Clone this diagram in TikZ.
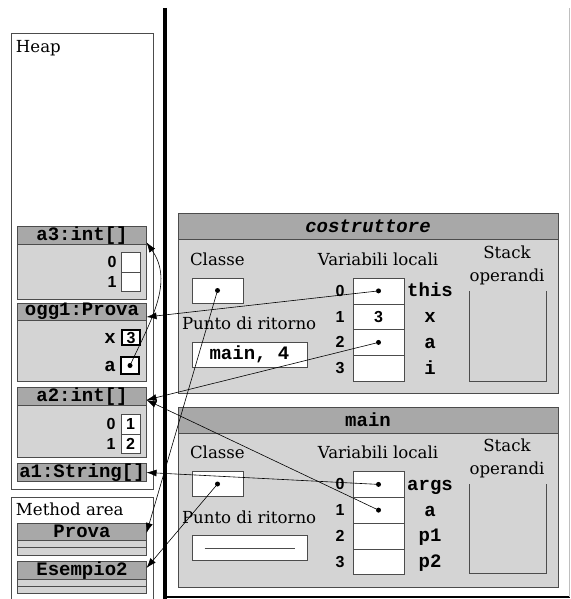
\documentclass[tikz,border=0pt]{standalone}
\usepackage{fontspec}
\setmainfont{DejaVu Serif}
\setmonofont{Liberation Mono}
\newfontfamily\numfont{Liberation Sans}
\usetikzlibrary{arrows.meta}
\newcommand{\txt}{\fontsize{16.6}{19}\selectfont}
\newcommand{\cod}{\fontsize{19}{21}\selectfont\ttfamily\bfseries}
\newcommand{\dig}{\fontsize{16}{18}\selectfont\numfont\bfseries}
\definecolor{hdrgray}{gray}{0.66}
\definecolor{bodygray}{gray}{0.83}
\definecolor{linegray}{gray}{0.3}

\begin{document}
\begin{tikzpicture}[x=1pt,y=-1pt,every node/.style={inner sep=0pt, outer sep=0pt},
  hdr/.style={draw=linegray, fill=hdrgray, minimum width=129pt, minimum height=17pt, font=\cod},
  body/.style={draw=linegray, fill=bodygray, minimum width=129pt},
  cell/.style={draw=linegray, fill=white, minimum width=19pt, minimum height=19.5pt, font=\dig, text height=11pt, text depth=0pt},
  var/.style={draw=linegray, fill=white, minimum width=51pt, minimum height=25.75pt},
  idx/.style={font=\dig, text height=11pt, text depth=0pt},
  vname/.style={font=\cod, text height=12pt, text depth=0pt},
  dot/.style={circle, fill=black, minimum size=5pt},
  ptr/.style={-{Latex[length=10pt,width=7pt]}, line width=0.6pt}]
\useasboundingbox (0,0) rectangle (570,599);

% separators
\draw[line width=3.3pt] (165,8) -- (165,599);
\draw[line width=1.2pt] (165,597) -- (570,597);
\draw[black!25] (569,8) -- (569,597);

% heap
\node[draw=linegray, minimum width=142pt, minimum height=456pt] (heap) at (82,261) {};
\node[anchor=base west, font=\txt] (heaplbl) at (16,53) {Heap};

\node[body, minimum height=55pt] (a3b) at (82,271.5) {};
\node[hdr] (a3h) at (82,235.5) {a3:int[]};
\node[cell] (a3c0) at (130.5,262) {};
\node[cell] (a3c1) at (130.5,281.5) {};
\node[idx] (a3i0) at (112,262) {0};
\node[idx] (a3i1) at (112,281.5) {1};

\node[body, minimum height=61pt] (ogg1b) at (82,350.5) {};
\node[hdr] (ogg1h) at (82,311.5) {ogg1:Prova};
\node[cell, line width=1.8pt, draw=black, minimum width=18pt, minimum height=15pt] (ogg1x) at (131,337.5) {3};
\node[cell, line width=1.8pt, draw=black, minimum width=18pt, minimum height=17pt] (ogg1a) at (130,365.5) {};
\node[dot] (ogg1ad) at (ogg1a) {};
\node[vname] (ogg1xl) at (110,337.5) {x};
\node[vname] (ogg1al) at (110,365.5) {a};

\node[body, minimum height=52pt] (a2b) at (82,431) {};
\node[hdr] (a2h) at (82,396.5) {a2:int[]};
\node[cell] (a2c0) at (130.5,424) {1};
\node[cell] (a2c1) at (130.5,443.5) {2};
\node[idx] (a2i0) at (111,424) {0};
\node[idx] (a2i1) at (111,443.5) {1};

\node[hdr] (a1h) at (82,472.5) {a1:String[]};

% method area
\draw[linegray] (11,600) |- (153,497) -- (153,600);
\node[anchor=base west, font=\txt] (marealbl) at (16,515) {Method area};
\node[hdr] (provah) at (82,531.5) {Prova};
\node[body, minimum height=7.5pt] (provas1) at (82,543.75) {};
\node[body, minimum height=7.5pt] (provas2) at (82,551.25) {};
\node[hdr] (esh) at (82,570.5) {Esempio2};
\node[body, minimum height=7pt] (ess1) at (82,582.5) {};
\node[body, minimum height=7pt] (ess2) at (82,589.5) {};

% frame costruttore
\node[draw=linegray, fill=bodygray, minimum width=380pt, minimum height=180pt] (cf) at (368,303) {};
\node[draw=linegray, fill=hdrgray, minimum width=380pt, minimum height=26pt, font=\cod\itshape] (ch) at (368,226) {costruttore};
\node[anchor=base west, font=\txt] (ccls) at (190,265) {Classe};
\node[draw=linegray, fill=white, minimum width=51pt, minimum height=25pt] (cclsb) at (217.5,290.5) {};
\node[dot] (cclsd) at (cclsb) {};
\node[anchor=base west, font=\txt] (cret) at (182,329) {Punto di ritorno};
\node[draw=linegray, fill=white, minimum width=115pt, minimum height=25pt, font=\cod] (cretb) at (249.5,354.5) {main, 4};
\node[anchor=base, font=\txt] (cvar) at (378,265) {Variabili locali};
\node[var] (c0) at (378.5,290.9) {};
\node[var] (c1) at (378.5,316.6) {};
\node[var] (c2) at (378.5,342.4) {};
\node[var] (c3) at (378.5,368.1) {};
\node[idx] (ci0) at (340,290.9) {0};
\node[idx] (ci1) at (340,316.6) {1};
\node[idx] (ci2) at (340,342.4) {2};
\node[idx] (ci3) at (340,368.1) {3};
\node[vname] (cn0) at (430,290.9) {this};
\node[vname] (cn1) at (430,316.6) {x};
\node[vname] (cn2) at (430,342.4) {a};
\node[vname] (cn3) at (430,368.1) {i};
\node[dot] (c0d) at (c0) {};
\node[idx] (c1v) at (c1) {3};
\node[dot] (c2d) at (c2) {};
\node[anchor=base, font=\txt] (cstk1) at (507,258) {Stack};
\node[anchor=base, font=\txt] (cstk2) at (507,281) {operandi};
\draw[linegray, line width=0.8pt] (469,291) -- (469,381) -- (546,381) -- (546,291);

% frame main
\node[draw=linegray, fill=bodygray, minimum width=380pt, minimum height=180pt] (mf) at (368,497) {};
\node[draw=linegray, fill=hdrgray, minimum width=380pt, minimum height=26pt, font=\cod] (mh) at (368,420) {main};
\node[anchor=base west, font=\txt] (mcls) at (190,458) {Classe};
\node[draw=linegray, fill=white, minimum width=51pt, minimum height=25pt] (mclsb) at (217.5,484) {};
\node[dot] (mclsd) at (mclsb) {};
\node[anchor=base west, font=\txt] (mret) at (182,523) {Punto di ritorno};
\node[draw=linegray, fill=white, minimum width=115pt, minimum height=25pt] (mretb) at (249.5,548) {};
\draw[linegray] ([xshift=-45pt]mretb.center) -- ([xshift=45pt]mretb.center);
\node[anchor=base, font=\txt] (mvar) at (378,458) {Variabili locali};
\node[var] (m0) at (378.5,484.4) {};
\node[var] (m1) at (378.5,510.1) {};
\node[var] (m2) at (378.5,535.9) {};
\node[var] (m3) at (378.5,561.6) {};
\node[idx] (mi0) at (340,484.4) {0};
\node[idx] (mi1) at (340,510.1) {1};
\node[idx] (mi2) at (340,535.9) {2};
\node[idx] (mi3) at (340,561.6) {3};
\node[vname] (mn0) at (430,484.4) {args};
\node[vname] (mn1) at (430,510.1) {a};
\node[vname] (mn2) at (430,535.9) {p1};
\node[vname] (mn3) at (430,561.6) {p2};
\node[dot] (m0d) at (m0) {};
\node[dot] (m1d) at (m1) {};
\node[anchor=base, font=\txt] (mstk1) at (507,451.5) {Stack};
\node[anchor=base, font=\txt] (mstk2) at (507,474.5) {operandi};
\draw[linegray, line width=0.8pt] (469,484) -- (469,573) -- (546,573) -- (546,484);

% pointers
\draw[ptr] (ogg1ad) to[out=65,in=-55] ([yshift=2pt]a3h.south east);
\draw[ptr] (c0d) -- ([yshift=3pt]ogg1h.south east);
\draw[ptr] (c2d) -- ([yshift=-3.5pt]a2h.east);
\draw[ptr] (m1d) -- ([yshift=-3.5pt]a2h.east);
\draw[ptr] (m0d) -- (a1h.east);
\draw[ptr] (cclsd) -- ([yshift=-1.5pt]provah.east);
\draw[ptr] (mclsd) -- ([yshift=2.5pt]esh.east);
\end{tikzpicture}
\end{document}
